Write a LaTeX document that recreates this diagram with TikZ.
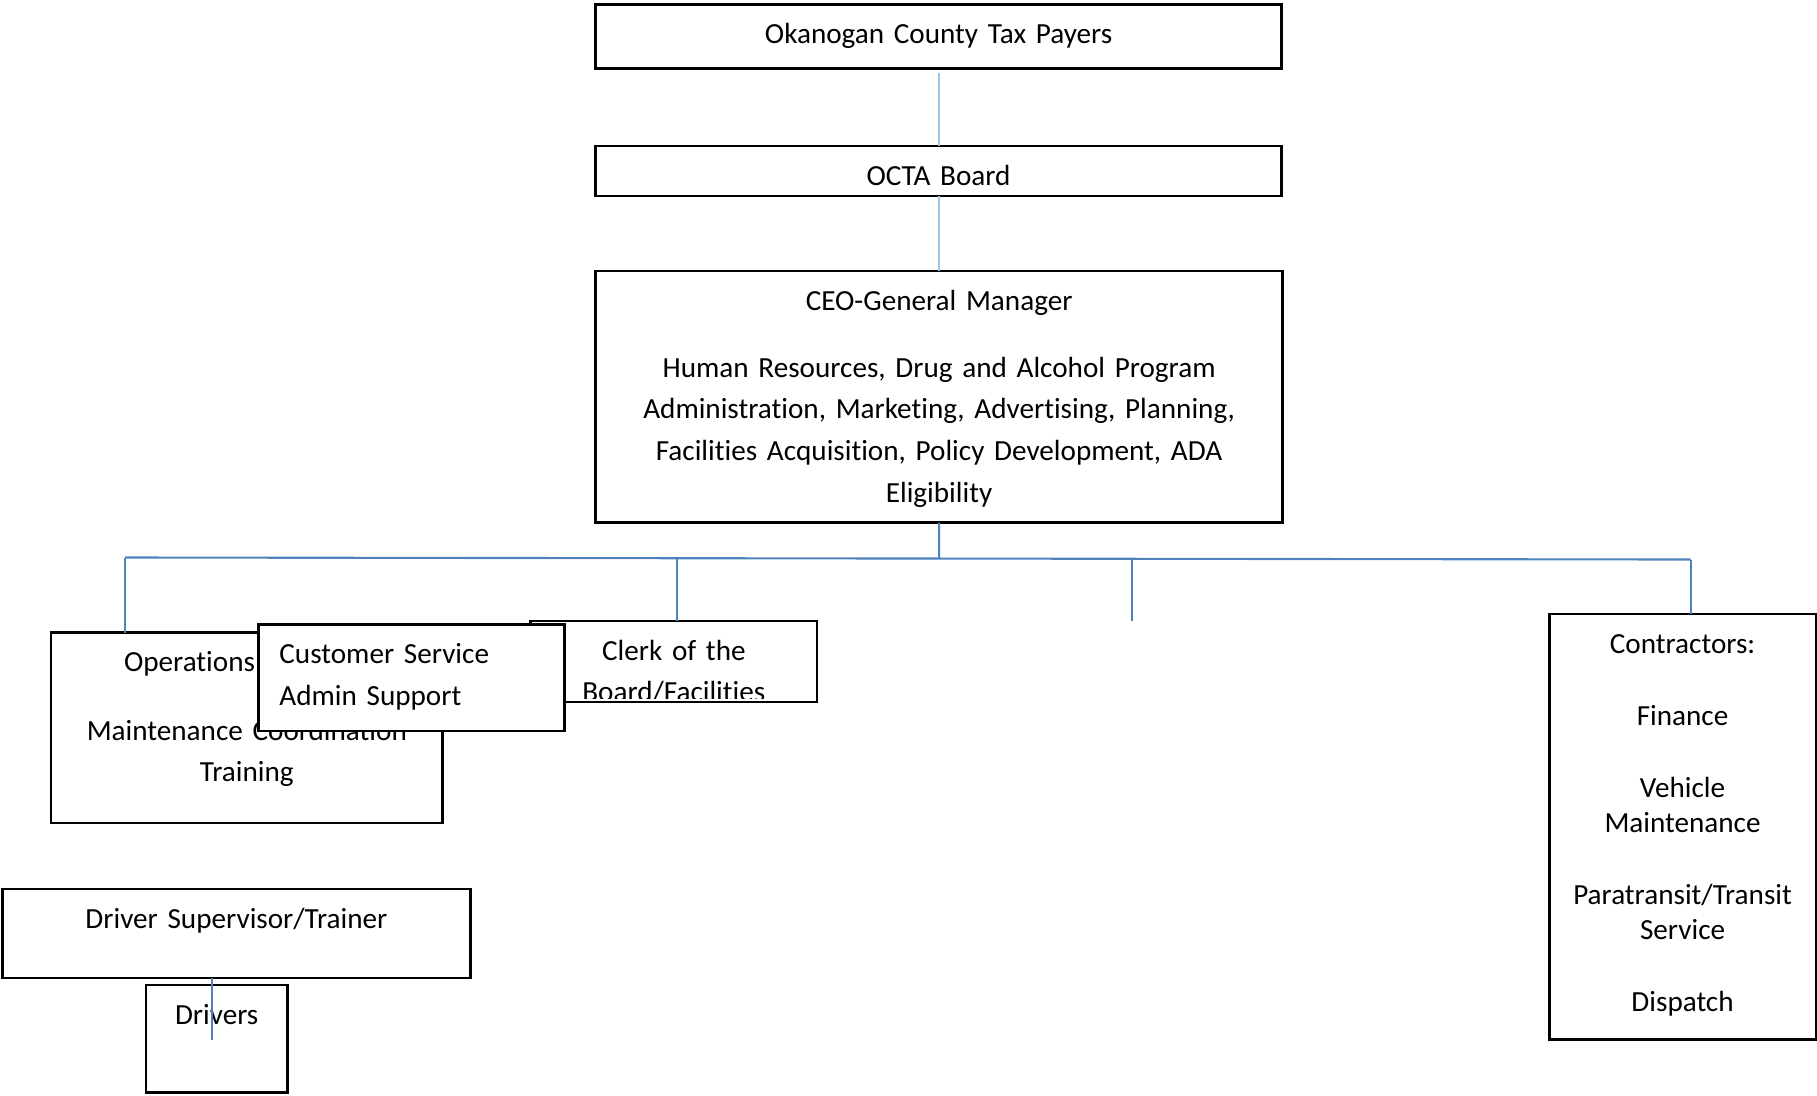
\documentclass[tikz,border=0pt]{standalone}
\usepackage{fontspec}
\setmainfont{Carlito}[Ligatures=NoCommon]
\usepackage{tikz}
\usepackage{xcolor}
\usetikzlibrary{positioning, calc}
\definecolor{linkblue}{HTML}{4F81BD}
\definecolor{paleblue}{HTML}{9DC3E6}
\newcommand{\boxfont}{\fontsize{16.6}{23.7}\selectfont}

\begin{document}
\begin{tikzpicture}[
  unit/.style={rectangle, draw=black, line width=1.4pt, fill=white, anchor=north west, inner sep=0pt, outer sep=0pt, text height=0.785cm, align=center, font=\boxfont},
  uplink/.style={draw=paleblue, line width=1.1pt},
  link/.style={draw=linkblue, line width=1.2pt}
]
  \useasboundingbox (0,0) rectangle (36.34,-21.9);

  % Board levels
  \node[unit, text width=13.72cm, text depth=0.491cm] (taxpayers) at (11.912,-0.092) {Okanogan County Tax Payers};
  \node[unit, text width=13.72cm, text depth=0.211cm] (octa) at (11.912,-2.92) {OCTA Board};
  \node[unit, text width=13.74cm, text depth=4.247cm] (ceo) at (11.912,-5.42) {CEO-General Manager\\[14.4pt]
    Human Resources, Drug and Alcohol Program\\
    Administration, Marketing, Advertising, Planning,\\
    Facilities Acquisition, Policy Development, ADA\\
    Eligibility};

  % Departments
  \node[unit, text width=7.834cm, text depth=3.017cm] (ops) at (1.02,-12.654) {\makebox[\linewidth][l]{\hspace{1.46cm}Operations}\\[15.1pt]
    Maintenance Coordination\\Training};
  \node[unit, text width=5.726cm, text depth=0.839cm, path picture={
    \clip ([yshift=0.07cm]path picture bounding box.south west) rectangle (path picture bounding box.north east);
    \node[anchor=north, inner sep=0pt, text width=5.726cm, text height=0.785cm, align=center, font=\boxfont] at (path picture bounding box.north) {Clerk of the\\Board/Facilities};
  }] (clerk) at (10.614,-12.42) {};
  \node[unit, text width=5.278cm, inner xsep=0.42cm, text depth=1.347cm, align=left] (custserv) at (5.168,-12.492) {Customer Service\\Admin Support};
  \node[unit, text width=5.33cm, text depth=7.723cm, font=\fontsize{16.6}{20.1}\selectfont] (contractors) at (30.986,-12.28) {Contractors:\\[20.8pt]
    Finance\\[20.8pt]
    Vehicle\\Maintenance\\[20.8pt]
    Paratransit/Transit\\Service\\[20.8pt]
    Dispatch};

  % Drivers
  \node[unit, text width=9.364cm, text depth=0.999cm] (driversup) at (0.046,-17.776) {Driver Supervisor/Trainer};
  \node[unit, text width=2.828cm, text depth=1.365cm] (drivers) at (2.92,-19.7) {Drivers};

  % Bus coordinates
  \coordinate (busleft) at (2.5,-11.15);
  \coordinate (busright) at (33.814,-11.19);
  \coordinate (clerkdrop) at (13.534,-11.17);
  \coordinate (spare) at (22.64,-11.18);
  \coordinate (spareend) at (22.64,-12.42);
  \coordinate (driverend) at (4.24,-20.8);

  % Lines
  \draw[uplink, shorten <=0.1cm] (taxpayers.south) -- (octa.north);
  \draw[uplink] (octa.south) -- (octa.south |- ceo.north);
  \draw[link] (ceo.south) -- ($(busleft)!0.52!(busright)$);
  \draw[link] (busleft) -- (busright);
  \draw[link] (busleft) -- (busleft |- ops.north);
  \draw[link] (clerkdrop) -- (clerkdrop |- clerk.north);
  \draw[link] (spare) -- (spareend);
  \draw[link] (busright) -- (busright |- contractors.north);
  \draw[link] (driversup.south -| driverend) -- (driverend);
\end{tikzpicture}
\end{document}
